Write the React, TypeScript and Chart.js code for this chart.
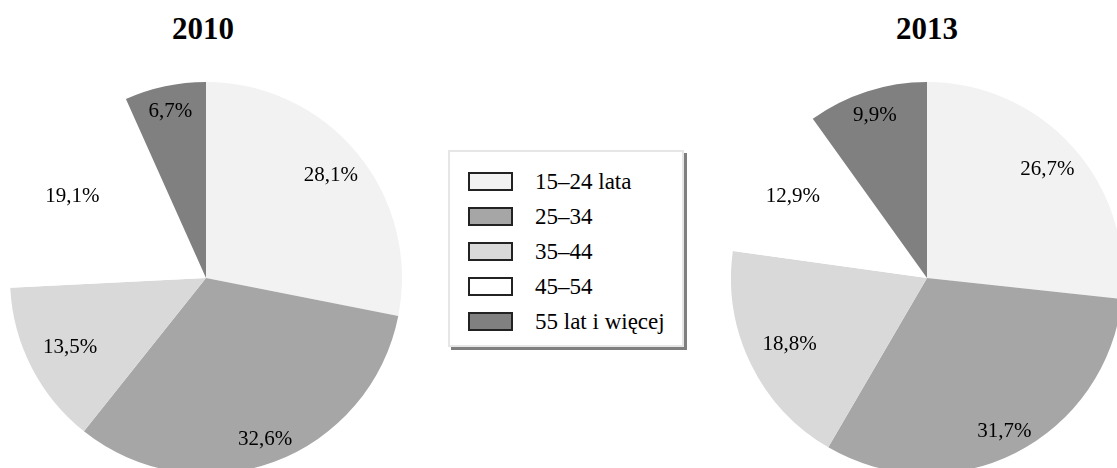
import React, { useEffect, useRef } from "react";
import { Chart, registerables } from "chart.js";

Chart.register(...registerables);

const categories = ["15–24 lata", "25–34", "35–44", "45–54", "55 lat i więcej"];
const values2010 = [28.1, 32.6, 13.5, 19.1, 6.7];
const values2013 = [26.7, 31.7, 18.8, 12.9, 9.9];
const sliceColors = ["#f2f2f2", "#a6a6a6", "#d9d9d9", "#ffffff", "#808080"];
const labelRadius = [0.825, 0.875, 0.78, 0.8, 0.87];

const FONT = "'Liberation Serif', 'Times New Roman', Times, serif";

const fmt = (v: number) => v.toFixed(1).replace(".", ",") + "%";

const labelPlugin = {
  id: "sliceLabels",
  afterDatasetsDraw(chart: any) {
    const { ctx } = chart;
    const meta = chart.getDatasetMeta(0);
    const data = chart.data.datasets[0].data as number[];
    ctx.save();
    ctx.font = `21px ${FONT}`;
    ctx.fillStyle = "#000";
    ctx.textAlign = "center";
    ctx.textBaseline = "middle";
    meta.data.forEach((arc: any, i: number) => {
      const p = arc.getProps(["x", "y", "startAngle", "endAngle", "outerRadius"], true);
      const mid = (p.startAngle + p.endAngle) / 2;
      const r = p.outerRadius * labelRadius[i];
      ctx.fillText(fmt(data[i]), p.x + Math.cos(mid) * r, p.y + Math.sin(mid) * r);
    });
    ctx.restore();
  },
};

function Pie({ values, left }: { values: number[]; left: number }) {
  const ref = useRef<HTMLCanvasElement>(null);
  useEffect(() => {
    if (!ref.current) return;
    const chart = new Chart(ref.current, {
      type: "pie",
      data: {
        labels: categories,
        datasets: [{ data: values, backgroundColor: sliceColors, borderWidth: 0 }],
      },
      options: {
        animation: false,
        responsive: true,
        maintainAspectRatio: false,
        layout: { padding: 0 },
        plugins: { legend: { display: false }, tooltip: { enabled: false } },
      },
      plugins: [labelPlugin],
    });
    return () => chart.destroy();
  }, [values]);
  return (
    <div style={{ position: "absolute", left, top: 82, width: 392, height: 392 }}>
      <canvas ref={ref} />
    </div>
  );
}

const titleStyle: React.CSSProperties = {
  position: "absolute",
  top: 13,
  width: 200,
  textAlign: "center",
  fontSize: 31,
  fontWeight: "bold",
  lineHeight: "31px",
  fontFamily: FONT,
};

export default function App() {
  return (
    <div
      style={{
        position: "fixed",
        left: 0,
        top: 0,
        width: 1117,
        height: 468,
        overflow: "hidden",
        background: "#fff",
        fontFamily: FONT,
      }}
    >
      <Pie values={values2010} left={10} />
      <Pie values={values2013} left={731} />
      <div style={{ ...titleStyle, left: 103 }}>2010</div>
      <div style={{ ...titleStyle, left: 827 }}>2013</div>
      <div
        style={{
          position: "absolute",
          left: 448,
          top: 150,
          width: 236,
          height: 197,
          boxSizing: "border-box",
          border: "2px solid #e6e6e6",
          boxShadow: "3px 3px 0 #7f7f7f",
          background: "#fff",
        }}
      >
        {categories.map((c, i) => (
          <div
            key={c}
            style={{
              position: "absolute",
              left: 18,
              top: 12 + i * 35,
              height: 35,
              display: "flex",
              alignItems: "center",
              whiteSpace: "nowrap",
            }}
          >
            <div
              style={{
                width: 45,
                height: 19,
                boxSizing: "border-box",
                border: "2px solid #222",
                background: sliceColors[i],
                marginRight: 22,
              }}
            />
            <span style={{ fontSize: 23, lineHeight: "35px", fontFamily: FONT, color: "#000" }}>{c}</span>
          </div>
        ))}
      </div>
    </div>
  );
}
